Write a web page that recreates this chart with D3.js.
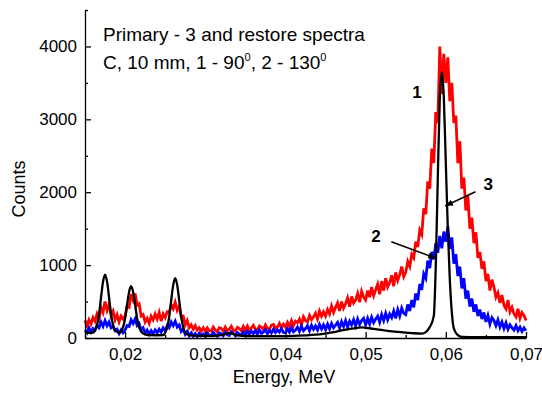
<!DOCTYPE html>
<html>
<head>
<meta charset="utf-8">
<script src="https://cdn.jsdelivr.net/npm/d3@7"></script>
<style>
  html, body { margin: 0; padding: 0; background: #fff; }
  svg { display: block; }
  text { font-family: "Liberation Sans", Arial, sans-serif; fill: #000; }
  .axis path, .axis line { stroke: #000; stroke-width: 1.3; }
</style>
</head>
<body>
<svg id="chart" width="542" height="394"></svg>
<script>
// ── Data ──────────────────────────────────────────────────────────────────────
// channel grid of the restored spectra
const E0 = 0.015;
const dE = 0.00025;

// spectrum 1 (90°), one value per channel
const red = [
  240, 170, 250, 190, 280, 230, 330, 260, 420, 350, 500, 380, 460, 310, 370, 250, 320, 220, 300, 260,
  300, 440, 420, 600, 520, 610, 450, 470, 300, 320, 220, 270, 200, 300, 250, 330, 260, 350, 230, 330,
  280, 360, 350, 460, 400, 490, 380, 440, 290, 300, 180, 240, 140, 180, 120, 170, 110, 140, 95, 140,
  90, 140, 100, 95, 150, 110, 85, 140, 130, 95, 150, 100, 120, 160, 105, 95, 145, 130, 100, 160,
  110, 165, 100, 140, 175, 120, 110, 165, 150, 115, 180, 130, 125, 175, 185, 135, 150, 200, 140, 190,
  150, 215, 160, 240, 170, 230, 210, 260, 180, 290, 240, 220, 310, 250, 290, 340, 260, 370, 300, 360,
  300, 390, 330, 440, 350, 420, 480, 370, 500, 410, 470, 550, 430, 570, 480, 520, 610, 490, 640, 560,
  520, 650, 560, 700, 580, 660, 740, 600, 780, 650, 820, 700, 760, 860, 710, 900, 790, 870, 980, 840,
  900, 1050, 980, 1150, 1100, 1320, 1250, 1480, 1420, 1780, 1700, 2150, 2050, 2600, 2400, 3100, 2950, 4000, 3350, 3900,
  3500, 3850, 3250, 3500, 2950, 3050, 2400, 2700, 2050, 2200, 1750, 1950, 1500, 1650, 1300, 1450, 1100, 1180, 950, 1050,
  780, 880, 650, 800, 700, 560, 620, 480, 590, 450, 400, 520, 360, 420, 330, 290, 400, 270, 350, 310,
  240
];

// spectrum 2 (130°)
const blue = [
  110, 70, 140, 80, 130, 110, 170, 140, 220, 160, 240, 170, 220, 140, 160, 100, 120, 60, 110, 70,
  110, 170, 160, 250, 200, 260, 170, 200, 110, 140, 70, 110, 50, 100, 60, 110, 70, 120, 80, 140,
  100, 170, 140, 220, 170, 230, 150, 180, 90, 120, 50, 90, 30, 70, 25, 60, 20, 65, 30, 55,
  25, 70, 40, 30, 75, 45, 25, 70, 60, 30, 80, 40, 35, 85, 60, 30, 75, 50, 40, 85,
  45, 90, 50, 95, 60, 100, 55, 110, 65, 80, 115, 60, 105, 70, 120, 75, 110, 80, 130, 75,
  70, 130, 80, 140, 85, 110, 150, 90, 160, 100, 130, 170, 100, 175, 120, 165, 110, 185, 125, 180,
  115, 190, 125, 200, 140, 175, 215, 135, 225, 160, 240, 150, 230, 180, 250, 165, 260, 185, 240, 270,
  180, 270, 190, 285, 210, 260, 300, 215, 320, 240, 340, 250, 330, 280, 370, 270, 390, 300, 410, 340,
  320, 460, 370, 520, 420, 610, 520, 740, 660, 880, 820, 1060, 960, 1180, 1080, 1300, 1170, 1400, 1230, 1460,
  1320, 1530, 1220, 1380, 1020, 1150, 850, 980, 680, 820, 540, 650, 430, 540, 360, 460, 300, 390, 260, 350,
  220, 310, 190, 280, 240, 170, 250, 150, 220, 130, 210, 120, 180, 140, 110, 170, 100, 150, 90, 140,
  100
];

// primary spectrum 3: [energy, counts]
const primary = [
  [0.015, 80], [0.0155, 70], [0.016, 75], [0.01625, 105], [0.0165, 178], [0.01675, 326],
  [0.017, 558], [0.01725, 774], [0.0175, 870], [0.01775, 774], [0.018, 558], [0.01825, 326],
  [0.0185, 178], [0.01875, 110], [0.019, 85], [0.0193, 75], [0.0195, 89], [0.01975, 148],
  [0.020, 268], [0.02025, 457], [0.0205, 632], [0.02075, 710], [0.021, 632], [0.02125, 457],
  [0.0215, 268], [0.02175, 148], [0.022, 89], [0.0225, 50], [0.023, 40], [0.024, 38],
  [0.02475, 40], [0.025, 74], [0.02525, 145], [0.0255, 290], [0.02575, 516], [0.026, 726],
  [0.02625, 820], [0.0265, 726], [0.02675, 516], [0.027, 290], [0.02725, 145], [0.0275, 74],
  [0.028, 40], [0.029, 30], [0.030, 30], [0.031, 30], [0.032, 40],
  [0.0325, 55], [0.033, 70], [0.0335, 55], [0.034, 35], [0.035, 30], [0.037, 25],
  [0.039, 25], [0.041, 30], [0.043, 40], [0.045, 60], [0.046, 80], [0.047, 105],
  [0.048, 125], [0.049, 140], [0.0495, 145], [0.050, 140], [0.051, 125], [0.052, 110],
  [0.053, 95], [0.054, 85], [0.055, 75], [0.056, 65], [0.057, 60], [0.0575, 80],
  [0.058, 150], [0.0585, 300], [0.05875, 1000], [0.059, 2200], [0.05925, 3300], [0.0595, 3650],
  [0.05975, 3300], [0.060, 2400], [0.06025, 1500], [0.0605, 800], [0.06075, 350], [0.061, 130],
  [0.0615, 40], [0.062, 15], [0.064, 10], [0.067, 10], [0.070, 10]
];

const xTicks = [0.02, 0.03, 0.04, 0.05, 0.06, 0.07];
const xMinor = [0.015, 0.025, 0.035, 0.045, 0.055, 0.065];
const yTicks = [0, 1000, 2000, 3000, 4000];
const yMinor = [500, 1500, 2500, 3500, 4500];

const captionTop = 'Primary - 3 and restore spectra';

// curve numbers: text, energy, counts
const labels = [
  ['1', 0.0564, 3290],
  ['2', 0.0513, 1317],
  ['3', 0.0653, 2030]
];
// arrows: from [energy, counts] to [energy, counts]
const arrows = [
  [[0.0532, 1320], [0.0588, 1093]],
  [[0.0637, 2007], [0.0599, 1811]]
];

// ── Chart ─────────────────────────────────────────────────────────────────────
const svg = d3.select('#chart');

const x = d3.scaleLinear().domain([0.015, 0.07]).range([85, 526]);
const y = d3.scaleLinear().domain([0, 4500]).range([338, 10]);

const toPts = arr => arr.map((c, i) => [E0 + i * dE, c]);

const line = d3.line()
  .x(d => x(d[0]))
  .y(d => y(d[1]));

svg.append('path')
  .datum(toPts(red))
  .attr('fill', 'none')
  .attr('stroke', '#ff0000')
  .attr('stroke-width', 2.8)
  .attr('d', line);

svg.append('path')
  .datum(toPts(blue))
  .attr('fill', 'none')
  .attr('stroke', '#0000ff')
  .attr('stroke-width', 2.8)
  .attr('d', line);

svg.append('path')
  .datum(primary)
  .attr('fill', 'none')
  .attr('stroke', '#000')
  .attr('stroke-width', 2.3)
  .attr('stroke-linejoin', 'round')
  .attr('d', line.curve(d3.curveMonotoneX));

// Axes
const fmt = d => d3.format('.2f')(d).replace('.', ',');

svg.append('g')
  .attr('class', 'axis')
  .attr('transform', 'translate(0,338)')
  .call(d3.axisBottom(x).tickValues(xTicks).tickFormat(fmt).tickSizeInner(-6).tickSizeOuter(0).tickPadding(10))
  .call(g => g.selectAll('text').attr('font-size', 17).attr('font-family', null));

svg.append('g')
  .attr('class', 'axis')
  .attr('transform', 'translate(0,338)')
  .call(d3.axisBottom(x).tickValues(xMinor).tickFormat('').tickSizeInner(-3).tickSizeOuter(0))
  .call(g => g.select('.domain').remove());

svg.append('g')
  .attr('class', 'axis')
  .attr('transform', 'translate(85,0)')
  .call(d3.axisLeft(y).tickValues(yTicks).tickFormat(d3.format('d')).tickSizeInner(-6).tickSizeOuter(0).tickPadding(8))
  .call(g => g.selectAll('text').attr('font-size', 17).attr('font-family', null));

svg.append('g')
  .attr('class', 'axis')
  .attr('transform', 'translate(85,0)')
  .call(d3.axisLeft(y).tickValues(yMinor).tickFormat('').tickSizeInner(-3).tickSizeOuter(0))
  .call(g => g.select('.domain').remove());

// Axis titles
svg.append('text')
  .attr('x', 284).attr('y', 383)
  .attr('text-anchor', 'middle')
  .attr('font-size', 18)
  .text('Energy, MeV');

svg.append('text')
  .attr('transform', 'translate(25,189) rotate(-90)')
  .attr('text-anchor', 'middle')
  .attr('font-size', 18)
  .text('Counts');

// Caption
svg.append('text')
  .attr('x', 103).attr('y', 41)
  .attr('font-size', 19)
  .text(captionTop);

const cap = svg.append('text')
  .attr('x', 103).attr('y', 69)
  .attr('font-size', 19);
cap.append('tspan').text('C, 10 mm, 1 - 90');
cap.append('tspan').attr('font-size', 11).attr('dy', -8).text('0');
cap.append('tspan').attr('dy', 8).text(', 2 - 130');
cap.append('tspan').attr('font-size', 11).attr('dy', -8).text('0');

// Curve labels and arrows
svg.append('defs').append('marker')
  .attr('id', 'arr')
  .attr('viewBox', '0 0 10 10')
  .attr('refX', 10).attr('refY', 5)
  .attr('markerWidth', 8).attr('markerHeight', 8)
  .attr('markerUnits', 'userSpaceOnUse')
  .attr('orient', 'auto')
  .append('path')
  .attr('d', 'M0,1 L10,5 L0,9 Z')
  .attr('fill', '#000');

labels.forEach(([t, e, c]) => {
  svg.append('text')
    .attr('x', x(e)).attr('y', y(c))
    .attr('text-anchor', 'middle')
    .attr('font-size', 17)
    .attr('font-weight', 'bold')
    .text(t);
});

arrows.forEach(([a, b]) => {
  svg.append('line')
    .attr('x1', x(a[0])).attr('y1', y(a[1]))
    .attr('x2', x(b[0])).attr('y2', y(b[1]))
    .attr('stroke', '#000')
    .attr('stroke-width', 1.5)
    .attr('marker-end', 'url(#arr)');
});
</script>
</body>
</html>
